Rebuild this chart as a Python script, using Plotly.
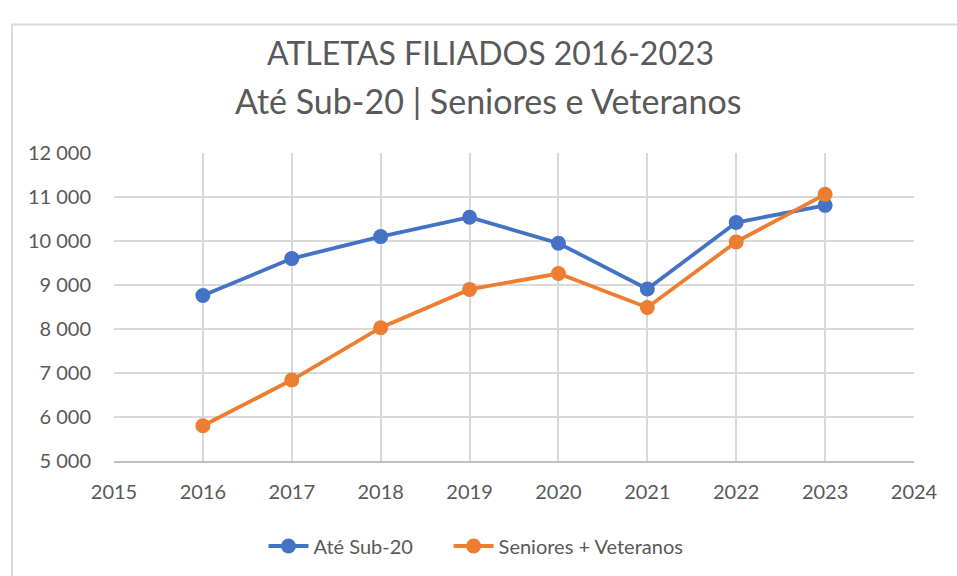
import plotly.graph_objects as go

years = [2016, 2017, 2018, 2019, 2020, 2021, 2022, 2023]
ate_sub20 = [8760, 9600, 10100, 10540, 9950, 8910, 10420, 10810]
seniores_veteranos = [5800, 6840, 8030, 8900, 9260, 8490, 9980, 11060]
series_names = ["Até Sub-20", "Seniores + Veteranos"]
title_line1 = "ATLETAS FILIADOS 2016-2023"
title_line2 = "Até Sub-20 | Seniores e Veteranos"

FONT = "Lato, 'Liberation Sans', sans-serif"
TXT = "#595959"
GRID = "#d9d9d9"

W, H = 957, 576
ML, MR, MT, MB = 114, 43, 153, 114
PW, PH = W - ML - MR, H - MT - MB


def px_x(px):
    return (px - ML) / PW


def px_y(py):
    return (H - MB - py) / PH


PAD = "\u00a0" * 6  # visual gap between legend entries

fig = go.Figure()
fig.add_trace(go.Scatter(
    x=years, y=ate_sub20, name=series_names[0] + PAD, mode="lines+markers",
    line=dict(color="#4472C4", width=3.8),
    marker=dict(color="#4472C4", size=15),
))
fig.add_trace(go.Scatter(
    x=years, y=seniores_veteranos, name=series_names[1], mode="lines+markers",
    line=dict(color="#ED7D31", width=3.8),
    marker=dict(color="#ED7D31", size=15),
))

fig.update_layout(
    width=W, height=H,
    paper_bgcolor="white", plot_bgcolor="white",
    margin=dict(l=ML, r=MR, t=MT, b=MB),
    separators=", ",
    font=dict(family=FONT, color=TXT, size=20),
    legend=dict(
        orientation="h", x=px_x(476), xanchor="center", y=px_y(546), yanchor="middle",
        font=dict(family=FONT, size=20, color=TXT),
        itemwidth=40,
    ),
    showlegend=True,
    annotations=[
        dict(text=title_line1, xref="paper", yref="paper", x=px_x(490), y=px_y(52),
             xanchor="center", yanchor="middle", showarrow=False,
             font=dict(family=FONT, size=32, color=TXT)),
        dict(text=title_line2, xref="paper", yref="paper", x=px_x(488), y=px_y(100),
             xanchor="center", yanchor="middle", showarrow=False,
             font=dict(family=FONT, size=34, color=TXT)),
    ],
    shapes=[dict(
        type="rect", xref="paper", yref="paper",
        x0=px_x(12), x1=px_x(1000), y0=px_y(640), y1=px_y(24),
        line=dict(color=GRID, width=2), fillcolor="rgba(0,0,0,0)", layer="below",
    )],
)

fig.update_xaxes(
    range=[2015, 2024], dtick=1, tick0=2015,
    showgrid=True, gridcolor=GRID, gridwidth=1.5,
    showline=True, linecolor="#bfbfbf", linewidth=1.5,
    zeroline=False, ticks="", ticklabelstandoff=12,
    tickfont=dict(family=FONT, size=20, color=TXT),
)
fig.update_yaxes(
    range=[5000, 12000], dtick=1000, tick0=5000,
    tickformat=",d",
    showgrid=True, gridcolor=GRID, gridwidth=1.5,
    showline=False, zeroline=False, ticks="", ticklabelstandoff=22,
    tickfont=dict(family=FONT, size=20, color=TXT),
)

fig.write_html(
    "out.html",
    config={"displayModeBar": False},
    post_script="document.body.style.margin='0';document.body.style.overflow='hidden';",
)
